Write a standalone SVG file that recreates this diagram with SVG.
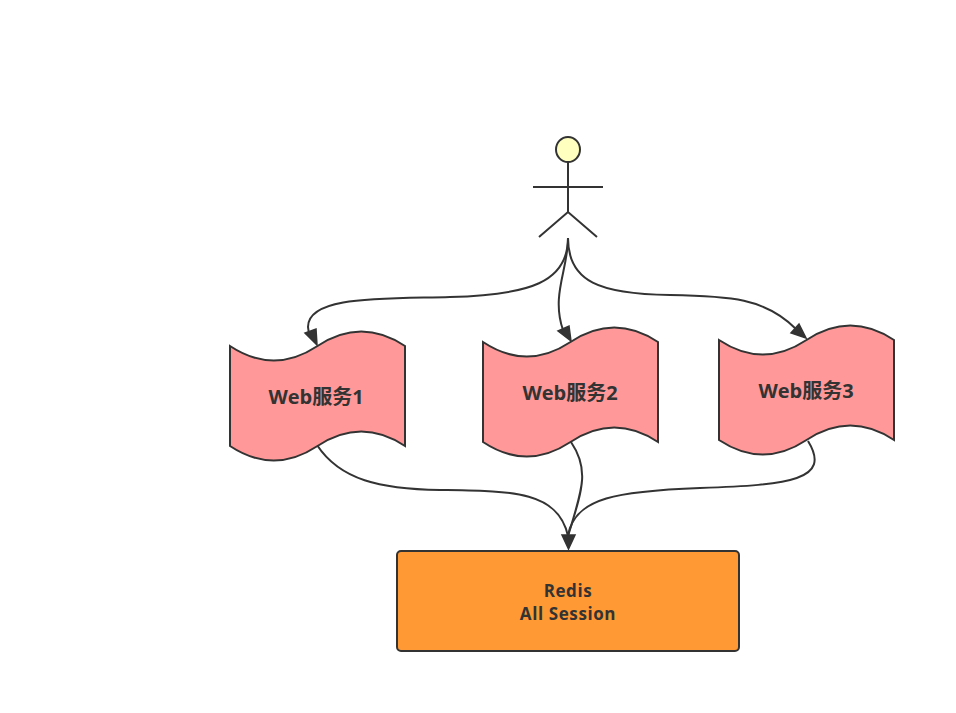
<svg xmlns="http://www.w3.org/2000/svg" width="956" height="713" viewBox="0 0 956 713">
<style>
.s{stroke:#333;stroke-width:2;fill:none}
.t{fill:#ff9999;stroke:#333;stroke-width:2}
.a{fill:#333;stroke:#333;stroke-width:1.500;stroke-linejoin:miter}
text{font-family:"Open Sans","Noto Sans CJK SC",sans-serif;font-weight:700;fill:#333;text-anchor:middle}
.l{font-size:20px}
.r{font-size:17px;letter-spacing:.6px}
</style>
<defs>
<path id="tape" d="M0 0Q43.750 29 87.500 0Q131.250-29 175 0V100Q131.250 71 87.500 100Q43.750 129 0 100Z"/>
</defs>
<rect width="956" height="713" fill="#fff"/>
<g id="connectors">
<path class="s" d="M568 238C568 282 530 295 450 297C380 299 308 296 308 327C308 331 309 334 311 337"/>
<path class="a" d="M317 345L305 333L316 329Z"/>
<path class="s" d="M568 238C568 270 551 295 563 330"/>
<path class="a" d="M571 341L558 331L569 326Z"/>
<path class="s" d="M568 238C568 282 600 294 670 295C730 296 765 298 796 329"/>
<path class="a" d="M806 338L791 333L799 324Z"/>
<path class="s" d="M317 445C340 480 380 489 440 490C510 491 558 490 568 536"/>
<path class="s" d="M571 442C590 470 582 490 568 536"/>
<path class="s" d="M808 441C832 480 790 485 700 488C620 491 574 497 568 536"/>
<path class="a" d="M568.500 549L562 535H575Z"/>
</g>
<g id="actor">
<ellipse cx="568" cy="149.500" rx="12" ry="12.500" fill="#ffffc0" stroke="#333" stroke-width="2"/>
<path class="s" d="M568 162V212M533 187H603M539 237L568 212L597 237"/>
</g>
<g id="web1"><use href="#tape" class="t" x="230" y="346"/><text class="l" x="316" y="404">Web服务1</text></g>
<g id="web2"><use href="#tape" class="t" x="483" y="342"/><text class="l" x="570" y="400">Web服务2</text></g>
<g id="web3"><use href="#tape" class="t" x="719" y="340"/><text class="l" x="806" y="398">Web服务3</text></g>
<g id="redis">
<rect x="397" y="551" width="342" height="100" rx="4" fill="#ff9933" stroke="#333" stroke-width="2"/>
<text class="r" x="568" y="596.500">Redis</text>
<text class="r" x="568" y="619.800">All Session</text>
</g>
</svg>
